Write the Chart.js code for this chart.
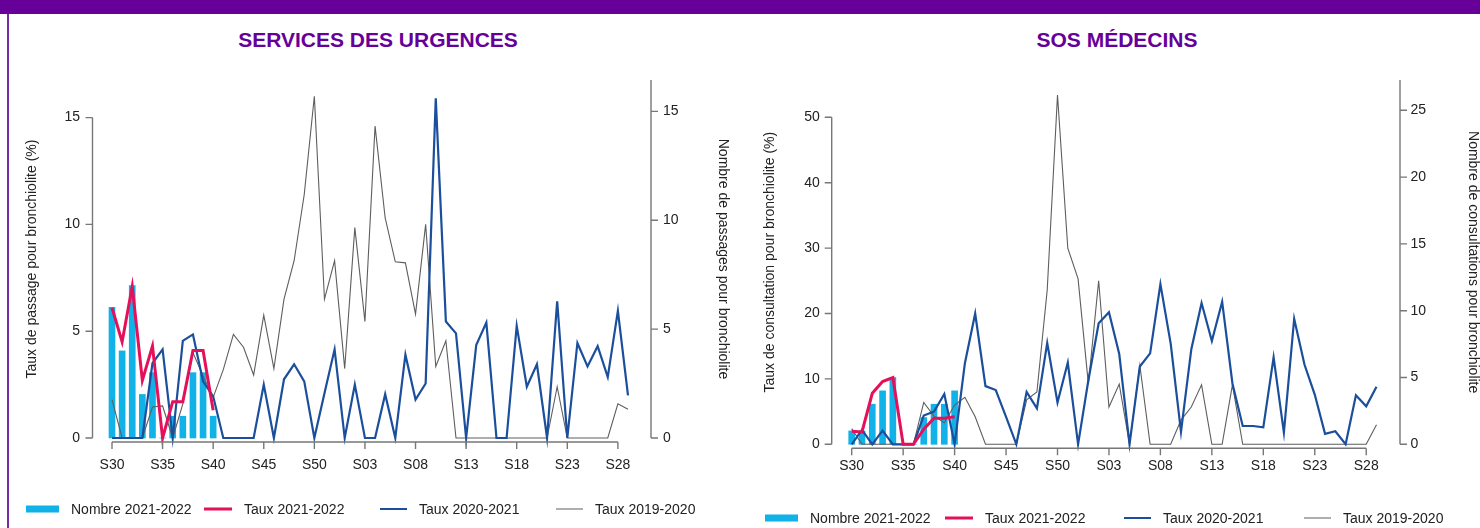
<!DOCTYPE html>
<html lang="fr">
<head>
<meta charset="UTF-8">
<title>Bronchiolite - urgences et SOS Médecins</title>
<script src="https://cdn.jsdelivr.net/npm/chart.js"></script>
<style>
    body {
        margin: 0;
        width: 1480px;
        height: 528px;
        overflow: hidden;
        position: relative;
        background: #fff;
        font-family: "Liberation Sans", Arial, sans-serif;
    }
    /* purple frame of the page */
    .topbar { position: absolute; left: 0; top: 0; width: 1480px; height: 14px; background: #660099; }
    .sidebar { position: absolute; left: 7px; top: 14px; width: 2px; height: 514px; background: #7a2aa8; }
    .ttl {
        position: absolute;
        top: 28px;
        margin: 0;
        font-size: 21px;
        font-weight: bold;
        color: #660099;
        text-align: center;
    }
    .panel { position: absolute; top: 0; }
    .sw { position: absolute; transform: translateY(-50%); }
    .lt { position: absolute; transform: translateY(-50%); font-size: 14px; color: #222; white-space: nowrap; }
</style>
</head>
<body>
<div class="topbar"></div>
<div class="sidebar"></div>
<h2 class="ttl" style="left:178px;width:400px">SERVICES DES URGENCES</h2>
<h2 class="ttl" style="left:917px;width:400px">SOS MÉDECINS</h2>

<div class="panel" style="left:0;width:740px"><canvas id="urg" width="740" height="528"></canvas></div>
<div class="panel" style="left:740px;width:760px"><canvas id="sos" width="760" height="528"></canvas></div>
<div id="legends"></div>

<script>
// weeks of the season (S30 -> S29)
var weeks = ['S30','S31','S32','S33','S34','S35','S36','S37','S38','S39','S40','S41','S42','S43','S44','S45',
    'S46','S47','S48','S49','S50','S51','S52','S01','S02','S03','S04','S05','S06','S07','S08','S09','S10',
    'S11','S12','S13','S14','S15','S16','S17','S18','S19','S20','S21','S22','S23','S24','S25','S26','S27',
    'S28','S29'];

// Services des urgences
var urgNombre21 = [6, 4, 7, 2, 3, 0, 1, 1, 3, 3, 1];
var urgTaux21 = [6.1, 4.5, 7.1, 2.7, 4.3, 0, 1.7, 1.7, 4.1, 4.1, 1.3];
var urgTaux20 = [0, 0, 0, 0, 3.5, 4.15, 0, 4.55, 4.85, 2.65, 1.95, 0, 0, 0, 0, 2.5, 0, 2.75, 3.45, 2.65,
    0, 2.1, 4.15, 0, 2.5, 0, 0, 2.05, 0, 3.9, 1.8, 2.55, 15.9, 5.45, 4.9, 0, 4.35, 5.4, 0, 0,
    5.25, 2.4, 3.45, 0, 6.4, 0, 4.45, 3.35, 4.3, 2.85, 5.95, 2.0];
var urgTaux19 = [1.8, 0, 0, 0, 1.45, 1.5, 0, 1.6, 4.0, 2.9, 1.9, 3.2, 4.85, 4.25, 2.95, 5.75, 3.25, 6.5, 8.3, 11.4,
    16.0, 6.5, 8.3, 3.25, 9.85, 5.45, 14.6, 10.3, 8.25, 8.2, 5.8, 10.0, 3.35, 4.55, 0, 0, 0, 0, 0, 0,
    0, 0, 0, 0, 2.4, 0, 0, 0, 0, 0, 1.6, 1.35];

// SOS Medecins
var sosNombre21 = [1, 1, 3, 4, 5, 0, 0, 2, 3, 3, 4];
var sosTaux21 = [2.0, 1.9, 7.8, 9.6, 10.2, 0, 0, 2.3, 4.0, 4.0, 4.2];
var sosTaux20 = [0, 2.2, 0, 2.1, 0, 0, 0, 4.4, 5.0, 7.7, 0, 12.4, 20.0, 8.9, 8.3, 4.2, 0, 8.0, 5.5, 15.5,
    6.4, 12.5, 0, 9.8, 18.5, 20.2, 13.8, 0, 11.9, 13.9, 24.5, 15.4, 1.9, 14.5, 21.6, 15.8, 21.8, 9.3, 2.8, 2.8,
    2.6, 13.3, 1.8, 19.2, 12.2, 7.6, 1.6, 2.0, 0, 7.5, 5.8, 8.8];
var sosTaux19 = [2.4, 0, 0, 0, 0, 0, 0, 6.4, 4.3, 3.3, 6.0, 7.2, 4.2, 0, 0, 0, 0, 6.8, 8.0, 23.6,
    53.4, 30.0, 25.3, 9.2, 25.0, 5.7, 9.2, 0, 12.1, 0, 0, 0, 3.7, 5.7, 9.1, 0, 0, 9.1, 0, 0,
    0, 0, 0, 0, 0, 0, 0, 0, 0, 0, 0, 3.0];

var CYAN = '#10b2e8', RED = '#e5105a', BLUE = '#1b4f9c', GREY = '#5e5e5e';

Chart.defaults.font.family = '"Liberation Sans", Arial, sans-serif';
Chart.defaults.font.size = 14;
Chart.defaults.color = '#222';

// axes drawn the R way: lines only span the ticks, set a bit away from the plot
var rAxes = {
    id: 'rAxes',
    afterDraw: function (chart, args, o) {
        var ctx = chart.ctx, a = chart.chartArea;
        var x = chart.scales.x, y = chart.scales.y, y1 = chart.scales.y1;
        ctx.save();
        ctx.strokeStyle = '#777';
        ctx.lineWidth = 1.4;
        ctx.beginPath();
        var xy = a.bottom + o.xGap;
        var xt = [];
        for (var i = 0; i < weeks.length; i += 5) xt.push(x.getPixelForValue(i));
        ctx.moveTo(xt[0], xy);
        ctx.lineTo(xt[xt.length - 1], xy);
        xt.forEach(function (px) { ctx.moveTo(px, xy); ctx.lineTo(px, xy + 7); });

        var lx = a.left - o.gapL;
        var lt = y.ticks.map(function (t) { return y.getPixelForValue(t.value); });
        ctx.moveTo(lx, lt[0]);
        ctx.lineTo(lx, lt[lt.length - 1]);
        lt.forEach(function (py) { ctx.moveTo(lx, py); ctx.lineTo(lx - 7, py); });

        var rx = a.right + o.gapR;
        ctx.moveTo(rx, y1.getPixelForValue(0));
        ctx.lineTo(rx, a.top);
        y1.ticks.forEach(function (t) {
            var py = y1.getPixelForValue(t.value);
            ctx.moveTo(rx, py);
            ctx.lineTo(rx + 7, py);
        });
        ctx.stroke();
        ctx.restore();
    }
};

function stepTicks(step) {
    return function (scale) {
        scale.ticks = scale.ticks.filter(function (t) { return Math.abs(t.value % step) < 1e-6; });
    };
}

function makeChart(id, nb, t21, t20, t19, c) {
    return new Chart(document.getElementById(id), {
        type: 'bar',
        data: {
            labels: weeks,
            datasets: [
                { type: 'line', label: 'Taux 2021-2022', data: t21, yAxisID: 'y', borderColor: RED,
                  borderWidth: 3, pointRadius: 0, clip: false, order: 0 },
                { type: 'line', label: 'Taux 2020-2021', data: t20, yAxisID: 'y', borderColor: BLUE,
                  borderWidth: 2.2, pointRadius: 0, clip: false, order: 1 },
                { type: 'line', label: 'Taux 2019-2020', data: t19, yAxisID: 'y', borderColor: GREY,
                  borderWidth: 1.1, pointRadius: 0, clip: false, order: 2 },
                { type: 'bar', label: 'Nombre 2021-2022', data: nb, yAxisID: 'y1', backgroundColor: CYAN,
                  barThickness: 6, clip: false, order: 3 }
            ]
        },
        options: {
            responsive: false,
            animation: false,
            layout: { padding: { left: c.padL, right: c.padR, top: 80, bottom: c.padB } },
            plugins: {
                legend: { display: false },
                tooltip: { enabled: false },
                rAxes: { xGap: 4, gapL: c.gapL, gapR: c.gapR }
            },
            scales: {
                x: {
                    offset: false,
                    grid: { display: false, drawTicks: false },
                    border: { display: false },
                    ticks: {
                        autoSkip: false, maxRotation: 0, minRotation: 0, padding: c.xPad, color: '#222',
                        callback: function (v, i) { return i % 5 === 0 ? weeks[i] : ''; }
                    },
                    afterFit: function (s) { s.height = 40; }
                },
                y: {
                    position: 'left', min: 0, max: c.yMax,
                    grid: { display: false, drawTicks: false },
                    border: { display: false },
                    ticks: { stepSize: c.yStep, padding: 32, color: '#222' },
                    afterBuildTicks: stepTicks(c.yStep),
                    title: { display: true, text: c.yTitle, padding: 0, font: { size: 14 }, color: '#222' },
                    afterFit: function (s) { s.width = c.yW; }
                },
                y1: {
                    position: 'right', min: 0, max: c.y1Max,
                    grid: { display: false, drawTicks: false },
                    border: { display: false },
                    ticks: { stepSize: 5, padding: c.y1Pad, color: '#222' },
                    afterBuildTicks: stepTicks(5),
                    title: { display: true, text: c.y1Title, padding: 0, font: { size: 14 }, color: '#222' },
                    afterFit: function (s) { s.width = c.y1W; }
                }
            }
        },
        plugins: [rAxes]
    });
}

makeChart('urg', urgNombre21, urgTaux21, urgTaux20, urgTaux19, {
    padL: 24, padR: 8.6, padB: 50, yW: 88, y1W: 103.4, gapL: 19.5, gapR: 23, xPad: 19,
    yMax: 16.76, yStep: 5, y1Max: 16.44, y1Pad: 35,
    yTitle: 'Taux de passage pour bronchiolite (%)',
    y1Title: 'Nombre de passages pour bronchiolite'
});

makeChart('sos', sosNombre21, sosTaux21, sosTaux20, sosTaux19, {
    padL: 21.6, padR: 18.6, padB: 43.7, yW: 90.1, y1W: 104.9, gapL: 20, gapR: 23.5, xPad: 13,
    yMax: 55.7, yStep: 10, y1Max: 27.27, y1Pad: 34,
    yTitle: 'Taux de consultation pour bronchiolite (%)',
    y1Title: 'Nombre de consultations pour bronchiolite'
});

// legends: one entry per column, like the original report
function legend(top, cols) {
    var items = [
        { text: 'Nombre 2021-2022', color: CYAN, w: 33, h: 7 },
        { text: 'Taux 2021-2022', color: RED, w: 28, h: 3 },
        { text: 'Taux 2020-2021', color: BLUE, w: 27, h: 2 },
        { text: 'Taux 2019-2020', color: GREY, w: 27, h: 1 }
    ];
    var box = document.getElementById('legends');
    items.forEach(function (it, i) {
        var sw = document.createElement('span');
        sw.className = 'sw';
        sw.style.cssText = 'left:' + cols[i] + 'px;top:' + top + 'px;width:' + it.w + 'px;height:' + it.h + 'px;background:' + it.color;
        var lt = document.createElement('span');
        lt.className = 'lt';
        lt.style.cssText = 'left:' + (cols[i] + it.w + 12) + 'px;top:' + top + 'px';
        lt.textContent = it.text;
        box.appendChild(sw);
        box.appendChild(lt);
    });
}
legend(509, [26, 204, 380, 556]);
legend(518, [765, 945, 1124, 1304]);
</script>
</body>
</html>
